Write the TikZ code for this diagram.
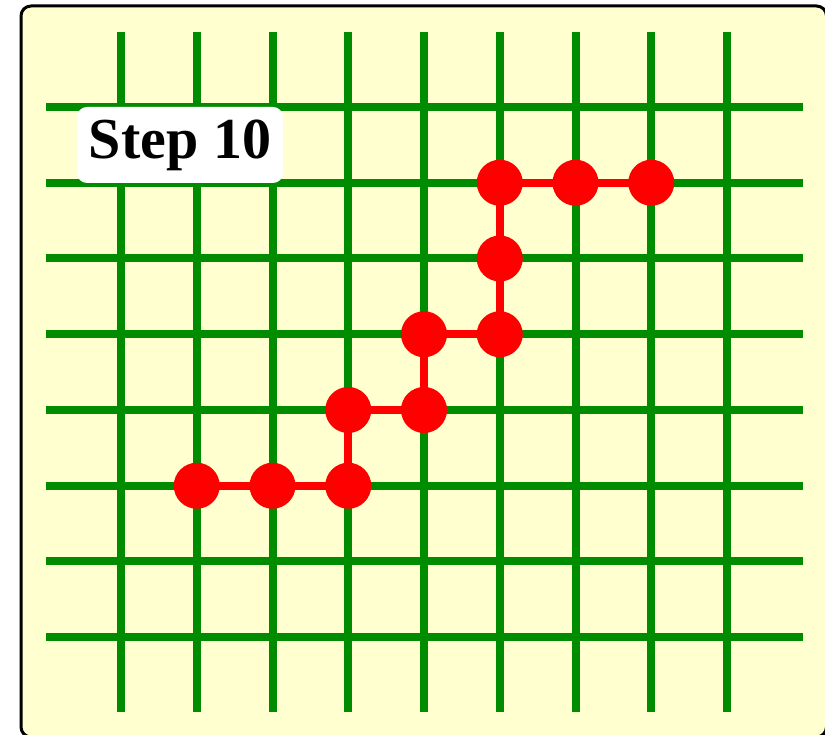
\documentclass[tikz,border=0pt]{standalone}
\usepackage{fontspec}
\setmainfont{Liberation Serif}
\definecolor{bgyellow}{RGB}{255,255,208}
\definecolor{gridgreen}{RGB}{0,140,0}
\tikzset{
  gridline/.style={draw=gridgreen, line width=8pt},
  walkdot/.style={circle, fill=red, inner sep=0pt, minimum size=46pt},
  walkline/.style={draw=red, line width=8pt},
  steplabel/.style={fill=white, rounded corners=10pt, minimum width=206pt, minimum height=76pt, inner sep=0pt,
    font=\bfseries\fontsize{58}{60}\selectfont}
}
\begin{document}
\begin{tikzpicture}[x=1pt,y=1pt]
\useasboundingbox (0,0) rectangle (825,735);
\clip (0,0) rectangle (825,735);
\draw[line width=3pt, fill=bgyellow, rounded corners=10pt] (21,-2) rectangle (826.5,729);
% grid
\foreach \i in {0,...,8} {
  \draw[gridline] (121+\i*75.75, 23) -- (121+\i*75.75, 703);
}
\foreach \j in {0,...,7} {
  \draw[gridline] (46, 628-\j*75.75) -- (803, 628-\j*75.75);
}
% label
\node[steplabel] (label) at (180,590) {Step 10};
% walk
\foreach \n/\i/\j in {p0/1/5, p1/2/5, p2/3/5, p3/3/4, p4/4/4, p5/4/3, p6/5/3, p7/5/2, p8/5/1, p9/6/1, p10/7/1} {
  \coordinate (\n) at (121+\i*75.75, 628-\j*75.75);
}
\draw[walkline] (p0) -- (p1) -- (p2) -- (p3) -- (p4) -- (p5) -- (p6) -- (p7) -- (p8) -- (p9) -- (p10);
\foreach \n in {p0,p1,p2,p3,p4,p5,p6,p7,p8,p9,p10} {
  \node[walkdot] (d\n) at (\n) {};
}
\end{tikzpicture}
\end{document}
